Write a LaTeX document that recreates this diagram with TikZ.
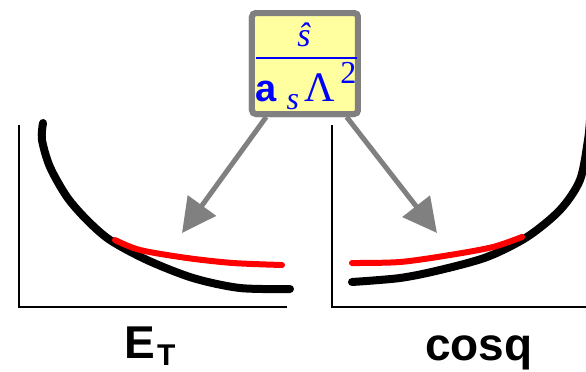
\documentclass[tikz,border=0pt]{standalone}
\usepackage{fontspec}
\setmainfont{Liberation Sans}
\newfontfamily\tms{Liberation Serif}
\usepackage{xcolor}
\definecolor{boxfill}{RGB}{255,255,160}
\definecolor{frame}{RGB}{128,128,128}
\definecolor{ink}{RGB}{0,0,255}
\definecolor{hot}{RGB}{255,0,0}
\usetikzlibrary{arrows.meta}

\begin{document}
\begin{tikzpicture}[x=0.5pt,y=-0.5pt,
  fracbox/.style={rectangle,rounded corners=2pt,draw=frame,fill=boxfill,line width=3pt,
                  minimum width=53pt,minimum height=50.5pt,inner sep=0pt},
  arr/.style={-{Triangle[length=17pt,width=17pt]},line width=2.5pt,color=frame},
  axis/.style={line width=0.6pt},
  base/.style={line width=4pt,line cap=round,smooth},
  hi/.style={line width=3pt,line cap=round,color=hot,smooth},
  lbl/.style={font=\fontsize{23}{23}\selectfont\bfseries,inner sep=0pt,anchor=base}
]
  \useasboundingbox (0,0) rectangle (586,371);
  % left panel
  \draw[axis] (19,125) -- (19,307) -- (287,307);
  \draw[base] plot coordinates {(43,123) (42,140) (50,167) (67,197) (87,220) (110,240)
                                (147,260) (193,278) (240,288) (290,289)};
  \draw[hi] plot coordinates {(115,240) (140,250) (187,258) (233,263) (282,265)};
  \node[lbl] (et) at (150,358) {E\hspace{1pt}\raisebox{-3.5pt}{\fontsize{15}{15}\selectfont T}};
  % right panel
  \begin{scope}
    \clip (0,0) rectangle (586,371);
    \draw[axis] (332,125) -- (332,307) -- (586,307);
    \draw[base] plot coordinates {(352,282) (400,278) (440,270) (487,257) (527,237)
                                  (560,210) (580,180) (588,140) (590,120)};
    \draw[hi] plot coordinates {(352,263) (400,262) (450,255) (493,247) (522,237)};
  \end{scope}
  \node[lbl] (cq) at (479,360) {cosq};
  % ratio box with arrows
  \coordinate (tipL) at (182,233);
  \coordinate (tipR) at (437,233);
  \node[fracbox] (frac) at (305,63.5) {};
  \draw[arr] (frac) -- (tipL);
  \draw[arr] (frac) -- (tipR);
  \node[fracbox] at (frac) {};
  \node[inner sep=0pt,text=ink,font=\tms\itshape\fontsize{17}{17}\selectfont] (shat) at (304,35) {ŝ};
  \coordinate (ruleL) at (256,58);
  \coordinate (ruleR) at (357,58);
  \draw[ink,line width=1.2pt] (ruleL) -- (ruleR);
  \node[inner sep=0pt,anchor=base west,text=ink] (den) at (255,101)
    {{\fontsize{19}{19}\selectfont\bfseries a}\hspace{5pt}\raisebox{-4pt}{\tms\itshape\fontsize{16}{16}\selectfont s}\hspace{3pt}{\tms\fontsize{21}{21}\selectfont Λ\hspace{2.5pt}\raisebox{9pt}{\fontsize{16}{16}\selectfont 2}}};
\end{tikzpicture}
\end{document}
